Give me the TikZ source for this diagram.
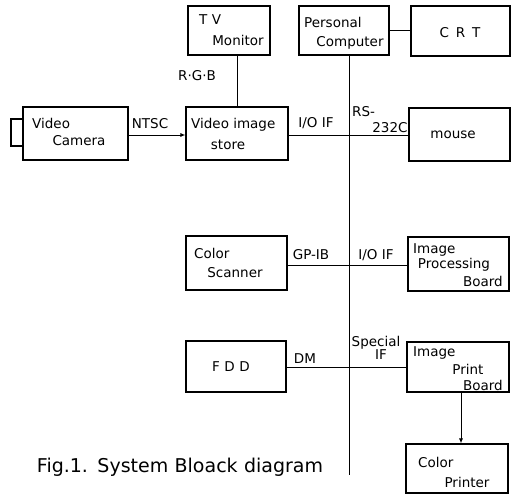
\documentclass[tikz,border=0pt]{standalone}
\usepackage{fontspec}
\setmainfont{DejaVu Sans}
\usetikzlibrary{arrows.meta,calc}
\begin{document}
\begin{tikzpicture}[x=1pt,y=-1pt,
  box/.style={draw,line width=1.1pt,inner sep=0pt},
  conn/.style={line width=0.9pt},
  arr/.style={conn,-{Latex[length=5pt,width=4pt]}},
  txt/.style={inner sep=0pt,font=\fontsize{13.5}{15}\selectfont},
  captxt/.style={inner sep=0pt,font=\fontsize{19}{22}\selectfont}]
\useasboundingbox (0,0) rectangle (514,495);
% boxes
\node[box,minimum width=82pt,minimum height=49pt] (tv) at (229,30.5) {};
\node[box,minimum width=90pt,minimum height=49pt] (pc) at (344,30.5) {};
\node[box,minimum width=99pt,minimum height=50pt] (crt) at (460.5,31) {};
\node[box,minimum width=105pt,minimum height=53pt] (cam) at (75.5,133.5) {};
\node[box,minimum width=12pt,minimum height=27pt] (lens) at (17,132.5) {};
\node[box,minimum width=102pt,minimum height=53pt] (vis) at (237,133.5) {};
\node[box,minimum width=101pt,minimum height=53pt] (mouse) at (459.5,134.5) {};
\node[box,minimum width=101pt,minimum height=54pt] (scan) at (236.5,263) {};
\node[box,minimum width=101pt,minimum height=54pt] (ipb) at (458.5,264) {};
\node[box,minimum width=100pt,minimum height=51pt] (fdd) at (236,366.5) {};
\node[box,minimum width=102pt,minimum height=50pt] (iprb) at (458,367) {};
\node[box,minimum width=102pt,minimum height=49pt] (cprt) at (457,468.5) {};
% box texts
\node[txt,anchor=west] (t1) at (199,20) {T\,\,V};
\node[txt] (t2) at (238,40) {Monitor};
\node[txt,anchor=west] (t3) at (304,22) {Personal};
\node[txt] (t4) at (350,43) {Computer};
\node[txt] (t5) at (460,33) {C\,\,\,R\,\,\,T};
\node[txt,anchor=west] (t6) at (32,123) {Video};
\node[txt] (t7) at (79,141) {Camera};
\node[txt,anchor=west] (t8) at (191,125) {Video image};
\node[txt] (t9) at (228,145) {store};
\node[txt] (t10) at (453,135) {mouse};
\node[txt,anchor=west] (t11) at (194,253) {Color};
\node[txt] (t12) at (235,273) {Scanner};
\node[txt,anchor=west] (t13) at (413,250) {Image};
\node[txt] (t14) at (454,265) {Processing};
\node[txt,anchor=east] (t15) at (503,281) {Board};
\node[txt] (t16) at (231,367) {F\,\,D\,\,D};
\node[txt,anchor=west] (t17) at (413,353) {Image};
\node[txt] (t18) at (468,369) {Print};
\node[txt,anchor=east] (t19) at (503,385) {Board};
\node[txt,anchor=west] (t20) at (418,462) {Color};
\node[txt] (t21) at (467,482) {Printer};
% connector labels
\node[txt] (l1) at (197,76) {R·G·B};
\node[txt] (l2) at (150,124) {NTSC};
\node[txt] (l3) at (316,123) {I/O\,\,IF};
\node[txt,anchor=west] (l4) at (352,112) {RS-};
\node[txt] (l5) at (390,128) {232C};
\node[txt] (l6) at (311,255) {GP-IB};
\node[txt] (l7) at (376,255) {I/O\,\,IF};
\node[txt] (l8) at (305,359) {DM};
\node[txt] (l9) at (376,343) {Special};
\node[txt] (l10) at (381,355) {IF};
\node[captxt] (caption) at (180,467) {Fig.1.\,\,\,System\,\,Bloack\,\,diagram};
% bus
\coordinate (bt) at (349,55);
\coordinate (bb) at (349,475);
\draw[conn] (bt) -- (bb);
% connectors
\draw[conn] (pc.east) -- (crt.west |- pc.east);
\draw[conn] (vis.north) -- (vis.north |- tv.south);
\draw[arr] (cam.east |- 0,135) -- (vis.west |- 0,135);
\draw[conn] (vis.east |- 0,135) -- (mouse.west |- 0,135);
\draw[conn] (scan.east |- 0,265) -- (ipb.west |- 0,265);
\draw[conn] (fdd.east |- 0,367) -- (iprb.west |- 0,367);
\draw[arr] (iprb.south -| 461,0) -- (cprt.north -| 461,0);
\end{tikzpicture}
\end{document}
